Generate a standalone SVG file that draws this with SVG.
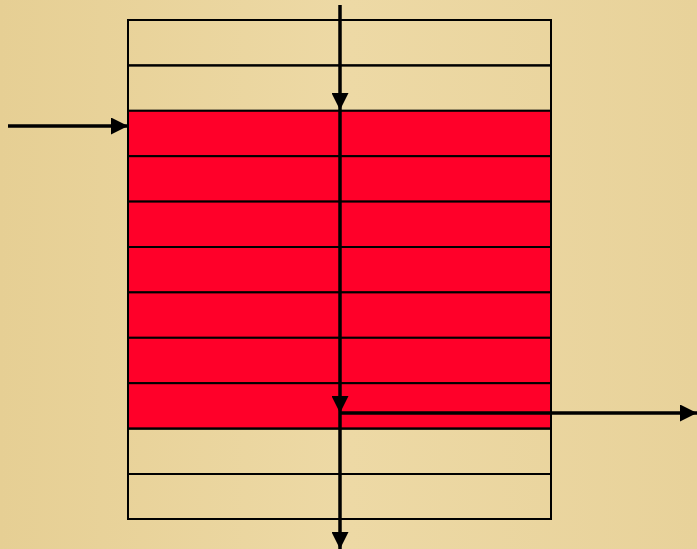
<svg xmlns="http://www.w3.org/2000/svg" width="697" height="549" viewBox="0 0 697 549">
<defs>
<style>
.row{stroke:#000;stroke-width:2}
.e{fill:none}
.r{fill:#FF0029}
.c{stroke:#000;stroke-width:3.5;fill:none}
</style>
<marker id="ah" viewBox="0 0 10 10" refX="10" refY="5" markerWidth="18" markerHeight="17" markerUnits="userSpaceOnUse" orient="auto">
<path d="M0,0 L10,5 L0,10 z" fill="#000"/>
</marker>
<linearGradient id="bg" x1="0" y1="0" x2="1" y2="0">
<stop offset="0" stop-color="#E6CF94"/>
<stop offset="0.5" stop-color="#EDD9A5"/>
<stop offset="1" stop-color="#E8D29A"/>
</linearGradient>
</defs>
<rect x="0" y="0" width="697" height="549" fill="url(#bg)"/>
<g id="row1"><rect class="row e" x="128" y="20" width="423" height="45.4"/></g>
<g id="row2"><rect class="row e" x="128" y="65.4" width="423" height="45.4"/></g>
<g id="row3"><rect class="row r" x="128" y="110.8" width="423" height="45.4"/></g>
<g id="row4"><rect class="row r" x="128" y="156.2" width="423" height="45.4"/></g>
<g id="row5"><rect class="row r" x="128" y="201.6" width="423" height="45.4"/></g>
<g id="row6"><rect class="row r" x="128" y="247" width="423" height="45.4"/></g>
<g id="row7"><rect class="row r" x="128" y="292.4" width="423" height="45.4"/></g>
<g id="row8"><rect class="row r" x="128" y="337.8" width="423" height="45.4"/></g>
<g id="row9"><rect class="row r" x="128" y="383.2" width="423" height="45.4"/></g>
<g id="row10"><rect class="row e" x="128" y="428.6" width="423" height="45.4"/></g>
<g id="row11"><rect class="row e" x="128" y="474" width="423" height="45"/></g>
<g id="connectors">
<line class="c" x1="340" y1="5" x2="340" y2="110" marker-end="url(#ah)"/>
<line class="c" x1="340" y1="110" x2="340" y2="413" marker-end="url(#ah)"/>
<line class="c" x1="340" y1="413" x2="340" y2="549" marker-end="url(#ah)"/>
<line class="c" x1="8" y1="126" x2="128" y2="126" marker-end="url(#ah)"/>
<line class="c" x1="340" y1="413" x2="697" y2="413" marker-end="url(#ah)"/>
</g>
</svg>
